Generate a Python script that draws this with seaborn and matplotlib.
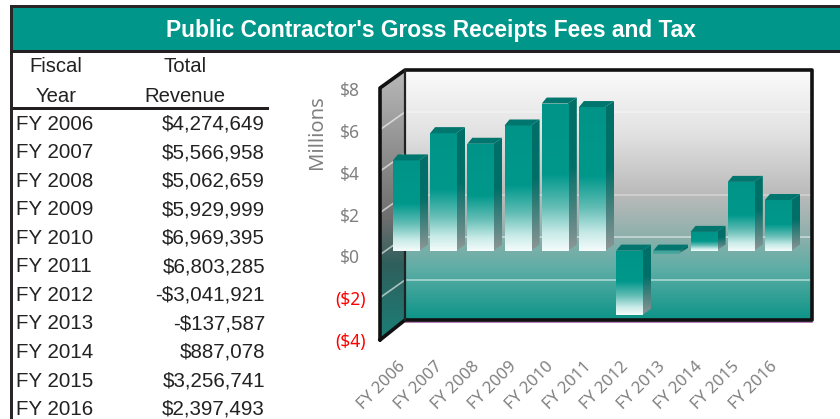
import numpy as np
import matplotlib
matplotlib.use("Agg")
import matplotlib.pyplot as plt
from matplotlib.colors import LinearSegmentedColormap
from matplotlib.patches import Polygon, Rectangle
from matplotlib.transforms import Affine2D
import seaborn as sns

title = "Public Contractor's Gross Receipts Fees and Tax"
years = ["FY 2006", "FY 2007", "FY 2008", "FY 2009", "FY 2010", "FY 2011",
         "FY 2012", "FY 2013", "FY 2014", "FY 2015", "FY 2016"]
revenue = [4274649, 5566958, 5062659, 5929999, 6969395, 6803285,
           -3041921, -137587, 887078, 3256741, 2397493]
y_ticks = [8, 6, 4, 2, 0, -2, -4]
y_tick_labels = ["$8", "$6", "$4", "$2", "$0", "($2)", "($4)"]

sns.set_theme(style="white")
W, H = 840, 419
fig = plt.figure(figsize=(W / 100, H / 100), dpi=100, facecolor="white")
TEAL = "#00968a"
INK = "#222222"
GRAY = "#808080"
TABLE_FONT = "Liberation Sans"
CHART_FONT = "Noto Sans"


def px_axes(left, top, right, bottom, z):
    a = fig.add_axes([left / W, 1 - bottom / H, (right - left) / W, (bottom - top) / H], zorder=z)
    a.patch.set_alpha(0)
    return a


def gradient(a, extent, stops, clip, z):
    cmap = LinearSegmentedColormap.from_list("g", stops)
    img = a.imshow(np.linspace(0, 1, 256)[:, None], cmap=cmap, vmin=0, vmax=1, extent=extent,
                   origin="upper", aspect="auto", zorder=z, interpolation="bilinear")
    img.set_clip_path(clip)
    return img


# Page furniture in pixel coordinates
bg = px_axes(0, 0, W, H, 0)
bg.add_patch(Rectangle((11, 8), W - 11, 43, color=TEAL, lw=0))
bg.add_patch(Rectangle((10, 5), W - 10, 3.2, color="#2a2627", lw=0))
bg.add_patch(Rectangle((10, 5), 3, H - 5, color="#2a2627", lw=0))
bg.add_patch(Rectangle((10, 50), W - 10, 3, color="#231f20", lw=0))
bg.add_patch(Rectangle((13, 107), 256, 2.6, color="#231f20", lw=0))
bg.text(431, 30, title, color="white", fontsize=16.4, fontweight="bold", family=TABLE_FONT,
        ha="center", va="center")
for txt, x, y in [("Fiscal", 56, 67), ("Year", 56, 96), ("Total", 185, 67), ("Revenue", 185, 96)]:
    bg.text(x, y, txt, color=INK, fontsize=14.6, family=TABLE_FONT, ha="center", va="center")
row_y = [124, 152.5, 181, 209.5, 238, 266.5, 295, 323.5, 352, 381, 409]
for yr, v, y in zip(years, revenue, row_y):
    bg.text(16, y, yr, color=INK, fontsize=14.8, family=TABLE_FONT, ha="left", va="center")
    s = f"${v:,}" if v >= 0 else f"-${-v:,}"
    bg.text(265, y, s, color=INK, fontsize=14.8, family=TABLE_FONT, ha="right", va="center")

# 3-D box walls
back = Rectangle((405, 71), 407, 249, transform=bg.transData)
gradient(bg, (405, 812, 320, 71),
         [(0, "#fbfbfb"), (0.25, "#e2e2e2"), (0.5, "#bababa"), (0.66, "#8fb0ac"), (0.8, "#5cada5"), (1, "#0d9488")],
         back, 1)
side = Polygon([(380, 88), (405, 71), (405, 320), (380, 340)], transform=bg.transData)
gradient(bg, (380, 405, 340, 71),
         [(0, "#b8b8b8"), (0.55, "#6e6e6e"), (0.72, "#2f5f5c"), (1, "#1b7f78")], side, 1)
for yb in [112, 195, 237, 280]:
    bg.plot([405, 812], [yb, yb], color="#ffffff", alpha=0.3 if yb < 200 else 0.45, lw=1.4, zorder=2)
for yb in [112, 153.5, 195, 237, 280]:
    bg.plot([381, 405], [yb + 17, yb], color="#ffffff", alpha=0.6, lw=1.2, zorder=2)
bg.plot([405, 812], [322.3, 322.3], color="#b07fb5", lw=1.4, zorder=2)
frame = dict(color="#111111", lw=2.6, zorder=3, solid_capstyle="round", solid_joinstyle="round")
bg.plot([380, 380, 405, 812, 812, 405, 380], [340, 88, 70, 70, 320, 320, 340], **frame)
bg.plot([405, 405], [70, 320], color="#222222", lw=1.6, zorder=3)
bg.set_xlim(0, W)
bg.set_ylim(H, 0)
bg.axis("off")

# Y axis labels belong to the front plane of the box
ax_y = px_axes(380, 89, 812, 340, 1)
ax_y.set_ylim(-4, 8)
ax_y.set_xticks([])
ax_y.set_yticks(y_ticks)
ax_y.set_yticklabels(y_tick_labels, family=CHART_FONT, fontsize=12.5)
ax_y.tick_params(axis="y", length=0, pad=21.5)
for lab, v in zip(ax_y.get_yticklabels(), y_ticks):
    lab.set_color("#ff0000" if v < 0 else GRAY)
    lab.set_ha("center")
for s in ax_y.spines.values():
    s.set_visible(False)
fig.text(317 / W, 1 - 132 / H, "Millions", rotation=90, color=GRAY, family=CHART_FONT,
         fontsize=14.5, ha="center", va="center")

# Bars
ax = px_axes(380, 65, 815, 345, 2)
millions = np.array(revenue) / 1e6
sns.barplot(x=years, y=millions, ax=ax, width=0.7, color=TEAL, saturation=1, zorder=3)
step_x, step_y = 37.2, 21.1
dx, dy = 9 / step_x, 6 / step_y
front_stops = [(0, "#009488"), (0.48, "#00988c"), (0.7, "#62bdb5"), (0.88, "#c9ebe8"), (1, "#f4fcfb")]
thin_stops = [(0, "#3fa39b"), (1, "#4da9a1")]
side_stops = [(0, "#006f68"), (0.45, "#006f68"), (1, "#8f9696")]
for p in list(ax.patches):
    x0, x1 = p.get_x(), p.get_x() + p.get_width()
    lo, hi = sorted([p.get_y(), p.get_y() + p.get_height()])
    p.set_linewidth(0)
    gradient(ax, (x0, x1, lo, hi), thin_stops if hi - lo < 0.3 else front_stops, p, 5)
    s = Polygon([(x1, hi), (x1 + dx, hi + dy), (x1 + dx, lo + dy), (x1, lo)], transform=ax.transData)
    gradient(ax, (x1, x1 + dx, lo, hi + dy), side_stops, s, 4)
    ax.add_patch(Polygon([(x0, hi), (x0 + dx * 0.55, hi + dy), (x1 + dx, hi + dy), (x1, hi)],
                         color="#00766e", lw=0, zorder=5))
ax.set_xlim((380 - 406) / step_x, (815 - 406) / step_x)
ax.set_ylim((250.6 - 345) / step_y, (250.6 - 65) / step_y)
ax.set_yticks([])
ax.set_xlabel("")
ax.set_ylabel("")
ax.tick_params(axis="x", length=0, pad=10)
ax.set_xticks(range(len(years)))
ax.set_xticklabels(years, rotation=45, ha="right", rotation_mode="anchor",
                   family=CHART_FONT, fontsize=12, color=GRAY)
shift = Affine2D().translate(-9, 0)
for lab in ax.get_xticklabels():
    lab.set_transform(lab.get_transform() + shift)
sns.despine(ax=ax, left=True, bottom=True)

fig.savefig("out.png", dpi=100)
